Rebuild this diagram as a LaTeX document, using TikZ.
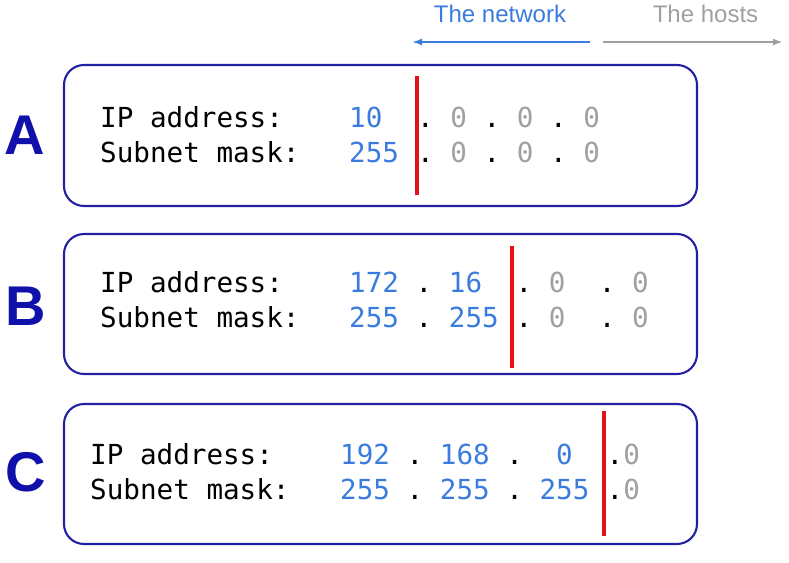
\documentclass[tikz,border=0pt]{standalone}
\usepackage{fontspec}
\setmainfont{Liberation Sans}
\newfontfamily\monofnt{DejaVu Sans Mono}
\usetikzlibrary{arrows.meta}
\definecolor{netblue}{RGB}{58,124,222}
\definecolor{hostgray}{RGB}{160,160,160}
\definecolor{boxnavy}{RGB}{32,32,160}
\definecolor{letterblue}{RGB}{16,16,170}
\definecolor{cutred}{RGB}{232,16,24}
\newcommand{\nb}[1]{\textcolor{netblue}{#1}}
\newcommand{\hg}[1]{\textcolor{hostgray}{#1}}
\begin{document}
\begin{tikzpicture}[x=1pt,y=-1pt,
  addrbox/.style={draw=boxnavy,line width=2.1pt,rounded corners=20pt},
  mono/.style={font=\monofnt\fontsize{27.6pt}{30pt}\selectfont\frenchspacing,anchor=base west,inner sep=0pt},
  biglet/.style={font=\fontsize{56pt}{60pt}\selectfont\bfseries,text=letterblue,anchor=base,inner sep=0pt},
  head/.style={font=\fontsize{24pt}{26pt}\selectfont,anchor=base,inner sep=0pt},
  cutline/.style={draw=cutred,line width=3.4pt},
  harrow/.style={line width=2pt,-{Latex[length=10pt,width=7pt]}}]
\useasboundingbox (0,0) rectangle (789,562);
% header
\node[head,text=netblue] (hnet) at (500,23) {The network};
\node[head,text=hostgray] (hhost) at (705.5,23) {The hosts};
\coordinate (na) at (590,42); \coordinate (nb) at (412,42);
\coordinate (ha) at (603,42); \coordinate (hb) at (783,42);
\draw[harrow,draw=netblue,fill=netblue] (na) -- (nb);
\draw[harrow,draw=hostgray,fill=hostgray] (ha) -- (hb);
% boxes
\draw[addrbox] (64,65) rectangle (697,206);
\draw[addrbox] (64,234) rectangle (697,374);
\draw[addrbox] (64,404) rectangle (697,544);
% letters
\node[biglet] (la) at (25,154) {A};
\node[biglet] (lb) at (25.5,325) {B};
\node[biglet] (lc) at (25.5,491) {C};
% A
\node[mono] (a1) at (100,127) {IP address:};
\node[mono] (a2) at (100,162) {Subnet mask:};
\node[mono] (a3) at (349,127) {\nb{10}};
\node[mono] (a4) at (349,162) {\nb{255}};
\node[mono] (a5) at (417,127) {.~\hg{0}~.~\hg{0}~.~\hg{0}};
\node[mono] (a6) at (417,162) {.~\hg{0}~.~\hg{0}~.~\hg{0}};
\draw[cutline] (417,76) -- (417,195);
% B
\node[mono] (b1) at (100,292) {IP address:};
\node[mono] (b2) at (100,327) {Subnet mask:};
\node[mono] (b3) at (349,292) {\nb{172}~.~\nb{16}};
\node[mono] (b4) at (349,327) {\nb{255}~.~\nb{255}};
\node[mono] (b5) at (515.5,292) {.~\hg{0}~~.~\hg{0}};
\node[mono] (b6) at (515.5,327) {.~\hg{0}~~.~\hg{0}};
\draw[cutline] (512,246) -- (512,368);
% C
\node[mono] (c1) at (90,464) {IP address:};
\node[mono] (c2) at (90,499) {Subnet mask:};
\node[mono] (c3) at (340,464) {\nb{192}~.~\nb{168}~.~~\nb{0}};
\node[mono] (c4) at (340,499) {\nb{255}~.~\nb{255}~.~\nb{255}};
\node[mono] (c5) at (606.5,464) {.\hg{0}};
\node[mono] (c6) at (606.5,499) {.\hg{0}};
\draw[cutline] (604,411) -- (604,536);
\end{tikzpicture}
\end{document}
